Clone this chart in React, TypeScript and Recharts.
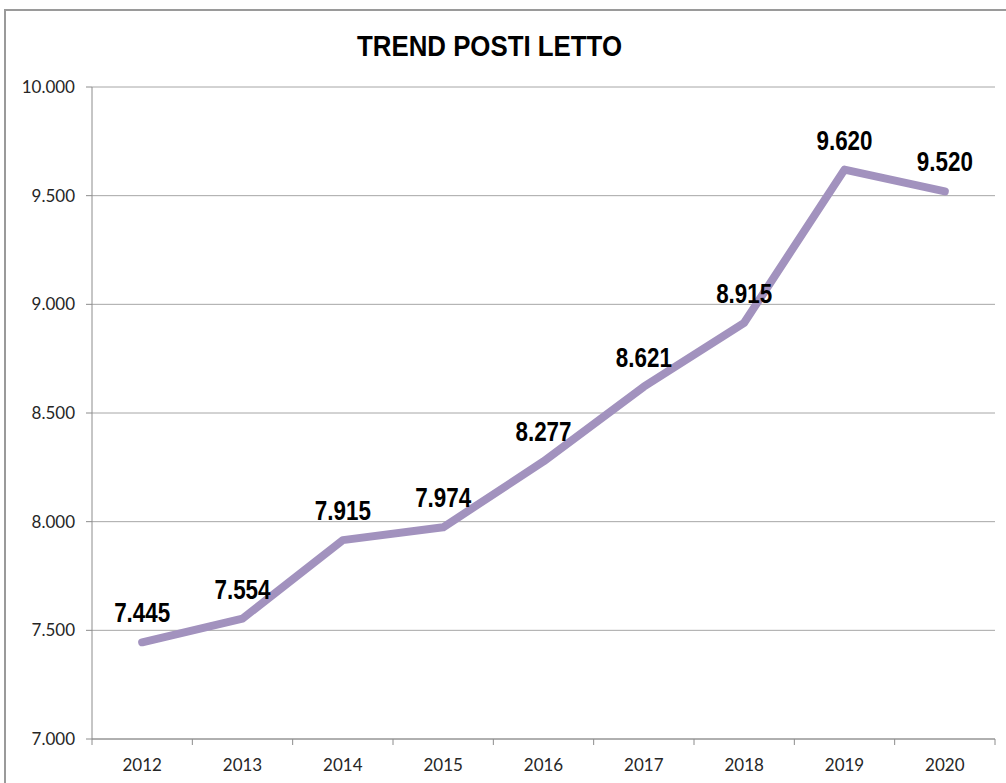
import React from 'react';
import { LineChart, Line, XAxis, YAxis, CartesianGrid, LabelList } from 'recharts';

const years = ['2012', '2013', '2014', '2015', '2016', '2017', '2018', '2019', '2020'];
const postiLetto = [7445, 7554, 7915, 7974, 8277, 8621, 8915, 9620, 9520];
const yTicks = [7000, 7500, 8000, 8500, 9000, 9500, 10000];
const chartTitle = 'TREND POSTI LETTO';

const data = years.map((y, i) => ({ year: y, value: postiLetto[i] }));

const fmt = (v: number) => String(Math.round(v)).replace(/\B(?=(\d{3})+(?!\d))/g, '.');

const W = 1006;
const H = 783;
const M = { top: 87, right: 11, bottom: 14, left: 12 };
const YW = 80;
const plotW = W - M.left - YW - M.right;
const band = plotW / years.length;

const AXIS = '#8c8c8c';
const GRID = '#a6a6a6';
const LINE = '#A292BE';
const TICK_FONT = "Lato, 'Open Sans', sans-serif";

const XTick = (props: any) => {
  const { x, y, payload, index } = props;
  const half = band / 2;
  return (
    <g>
      <line x1={x - half} x2={x - half} y1={y} y2={y + 6} stroke={AXIS} strokeWidth={1} />
      {index === years.length - 1 && (
        <line x1={x + half} x2={x + half} y1={y} y2={y + 6} stroke={AXIS} strokeWidth={1} />
      )}
      <text x={x} y={y + 32} textAnchor="middle" fontFamily={TICK_FONT} fontSize={17} fill="#262626">
        {payload.value}
      </text>
    </g>
  );
};

const DataLabel = (props: any) => {
  const { x, y, value } = props;
  if (x == null || y == null) return null;
  const s = fmt(Number(value));
  const fs = 28;
  const len = [...s].reduce((a, c) => a + (c === '.' ? 0.278 : 0.556), 0) * fs * 0.8;
  return (
    <text
      x={x}
      y={y - 20}
      textAnchor="middle"
      fontFamily="'Liberation Sans', Arial, sans-serif"
      fontWeight="bold"
      fontSize={fs}
      textLength={len}
      lengthAdjust="spacingAndGlyphs"
      fill="#000"
    >
      {s}
    </text>
  );
};

export default function App() {
  return (
    <div style={{ position: 'absolute', left: 0, top: 0, width: W, height: H, overflow: 'hidden', background: '#fff' }}>
      <div
        style={{
          position: 'absolute',
          left: 4,
          top: 9,
          width: 1100,
          height: 900,
          border: '2px solid #9a9a9a',
          boxSizing: 'border-box',
        }}
      />
      <svg style={{ position: 'absolute', left: 0, top: 0 }} width={W} height={80}>
        <text
          x={489.5}
          y={56}
          textAnchor="middle"
          fontFamily="'Liberation Sans', Arial, sans-serif"
          fontWeight="bold"
          fontSize={29}
          textLength={265}
          lengthAdjust="spacingAndGlyphs"
          fill="#000"
        >
          {chartTitle}
        </text>
      </svg>
      <div style={{ position: 'absolute', left: 0, top: 0 }}>
        <LineChart width={W} height={H} data={data} margin={M}>
          <CartesianGrid vertical={false} stroke={GRID} strokeWidth={1} />
          <XAxis
            dataKey="year"
            height={30}
            padding={{ left: band / 2, right: band / 2 }}
            axisLine={{ stroke: AXIS, strokeWidth: 1 }}
            tickLine={false}
            tickSize={0}
            tickMargin={0}
            tick={<XTick />}
            interval={0}
          />
          <YAxis
            width={YW}
            domain={[7000, 10000]}
            ticks={yTicks}
            interval={0}
            tickFormatter={fmt}
            axisLine={{ stroke: AXIS, strokeWidth: 1 }}
            tickLine={{ stroke: AXIS, strokeWidth: 1 }}
            tickSize={6}
            tickMargin={11}
            tick={{ fontFamily: TICK_FONT, fontSize: 17, fill: '#262626' }}
          />
          <Line
            type="linear"
            dataKey="value"
            stroke={LINE}
            strokeWidth={8}
            strokeLinecap="round"
            strokeLinejoin="round"
            dot={false}
            activeDot={false}
            isAnimationActive={false}
          >
            <LabelList dataKey="value" content={<DataLabel />} />
          </Line>
        </LineChart>
      </div>
    </div>
  );
}
